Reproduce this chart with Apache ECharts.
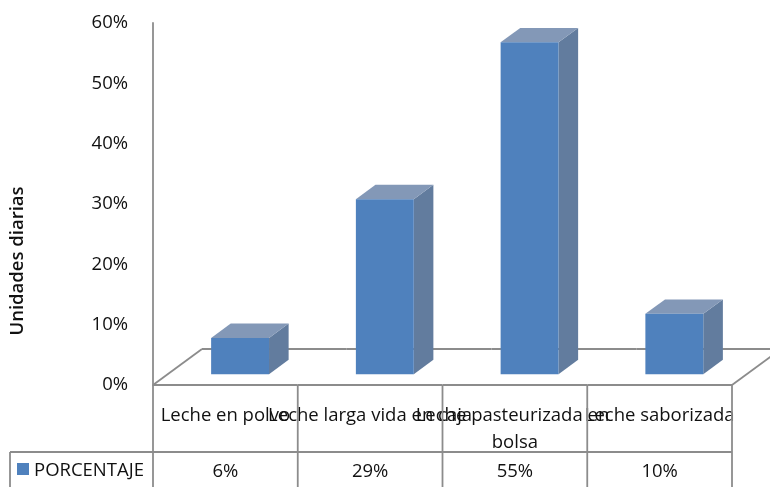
<!DOCTYPE html>
<html>
<head>
<meta charset="utf-8">
<script src="https://cdn.jsdelivr.net/npm/echarts@6/dist/echarts.min.js"></script>
<style>
  html, body { margin: 0; padding: 0; background: #fff; }
  #chart { width: 770px; height: 487px; }
</style>
</head>
<body>
<div id="chart"></div>
<script>
// Consumo de leche por tipo de producto
const categories = ['Leche en polvo', 'Leche larga vida en caja', 'Leche pasteurizada en bolsa', 'Leche saborizada'];
const porcentaje = [0.06, 0.29, 0.55, 0.10];
const seriesName = 'PORCENTAJE';
const axisTitle = 'Unidades diarias';
const yMin = 0, yMax = 0.6, yStep = 0.1;

const FONT = '"Open Sans", Lato, sans-serif';
const FS = 18.5;
const LINE = '#8c8c8c';
const FRONT = '#4f81bd', SIDE = '#627c9e', TOP = '#8398b7';
// oblique depth of the floor (pixels)
const DEPTH_X = 49, DEPTH_Y = -36;

const pct = v => Math.round(v * 100) + '%';

const chart = echarts.init(document.getElementById('chart'), null, { renderer: 'canvas' });

// floor outline + data table below the plot
function renderTable(params, api) {
  const i = api.value(0), v = api.value(1);
  const c = api.coord([i, 0]);
  const band = api.size([1, 0])[0];
  const xl = c[0] - band / 2, xr = c[0] + band / 2, y0 = c[1];
  const bottom = api.getHeight();
  const rowY = y0 + 67;
  const ls = { stroke: LINE, lineWidth: 1.8 };
  const line = (x1, y1, x2, y2) => ({ type: 'line', shape: { x1, y1, x2, y2 }, style: ls });
  const kids = [
    line(xl, y0, xr, y0),
    line(xl + DEPTH_X, y0 + DEPTH_Y, xr + DEPTH_X, y0 + DEPTH_Y),
    line(xr, y0, xr, bottom),
    line(xl, rowY, xr, rowY),
    { type: 'text', style: { text: pct(v), x: c[0], y: rowY + 20, align: 'center', verticalAlign: 'middle',
        fill: '#111', font: FS + 'px ' + FONT } }
  ];
  if (i === 0) {
    const lx = 10;
    kids.push(
      line(xl, y0, xl + DEPTH_X, y0 + DEPTH_Y),
      line(xl, y0, xl, bottom),
      line(lx, rowY, xl, rowY),
      line(lx, rowY, lx, bottom),
      { type: 'rect', shape: { x: lx + 7, y: rowY + 11, width: 12, height: 12 }, style: { fill: FRONT } },
      { type: 'text', style: { text: seriesName, x: lx + 24, y: rowY + 19, align: 'left', verticalAlign: 'middle',
          fill: '#111', font: FS + 'px ' + FONT } }
    );
  }
  if (i === categories.length - 1) {
    kids.push(line(xr, y0, xr + DEPTH_X, y0 + DEPTH_Y));
  }
  return { type: 'group', children: kids };
}

// 3D-looking column: front face, right side and top
function renderBar(params, api) {
  const i = api.value(0), v = api.value(1);
  const base = api.coord([i, 0]);
  const top = api.coord([i, v]);
  const band = api.size([1, 0])[0];
  const w = band * 0.4;
  const fx = DEPTH_X * 0.3, fy = DEPTH_Y * 0.3;
  const dx = DEPTH_X * 0.4, dy = DEPTH_Y * 0.4;
  const x0 = base[0] - w / 2 + fx, x1 = x0 + w;
  const yb = base[1] + fy, yt = top[1] + fy;
  return {
    type: 'group',
    children: [
      { type: 'polygon', shape: { points: [[x1, yt], [x1 + dx, yt + dy], [x1 + dx, yb + dy], [x1, yb]] }, style: { fill: SIDE } },
      { type: 'polygon', shape: { points: [[x0, yt], [x0 + dx, yt + dy], [x1 + dx, yt + dy], [x1, yt]] }, style: { fill: TOP } },
      { type: 'polygon', shape: { points: [[x0, yt], [x1, yt], [x1, yb], [x0, yb]] }, style: { fill: FRONT } }
    ]
  };
}

const rows = categories.map((c, i) => [i, porcentaje[i]]);

chart.setOption({
  animation: false,
  backgroundColor: '#fff',
  grid: { left: 153, right: 38, top: 23, bottom: 102, containLabel: false, outerBoundsMode: 'none' },
  xAxis: {
    type: 'category',
    data: categories,
    axisLine: { show: false },
    axisTick: { show: false },
    splitLine: { show: false },
    axisLabel: {
      interval: 0, margin: 17, color: '#111', fontFamily: FONT, fontSize: FS,
      width: 222, overflow: 'break', lineHeight: 27
    }
  },
  yAxis: {
    type: 'value',
    min: yMin, max: yMax, interval: yStep,
    axisLine: { show: true, lineStyle: { color: LINE, width: 1.8 } },
    axisTick: { show: false },
    splitLine: { show: false },
    axisLabel: { formatter: pct, margin: 25, color: '#111', fontFamily: FONT, fontSize: FS }
  },
  graphic: [{
    type: 'text', x: 18, y: 261, rotation: Math.PI / 2,
    style: { text: axisTitle, align: 'center', verticalAlign: 'middle', fill: '#111', font: '600 ' + FS + 'px ' + FONT }
  }],
  series: [
    { type: 'custom', name: 'tabla', renderItem: renderTable, data: rows, z: 1, silent: true },
    { type: 'custom', name: seriesName, renderItem: renderBar, data: rows, z: 2 }
  ]
});
</script>
</body>
</html>
